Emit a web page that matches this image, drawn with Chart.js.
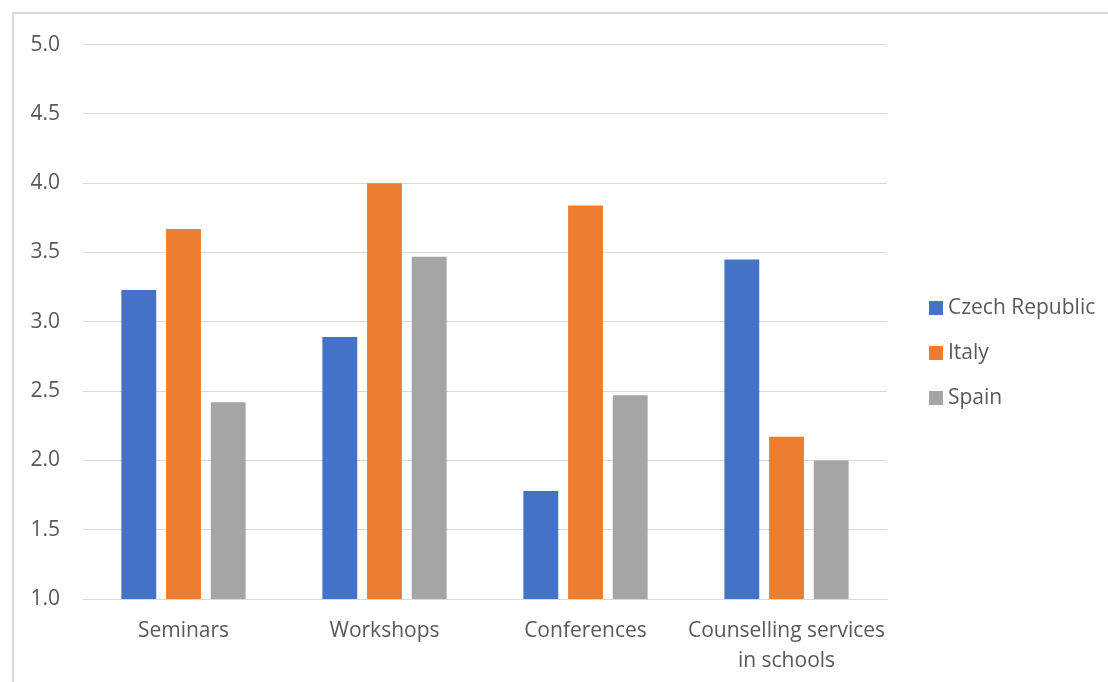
<!DOCTYPE html>
<html>
<head>
<meta charset="utf-8">
<script src="https://cdn.jsdelivr.net/npm/chart.js@4/dist/chart.umd.min.js"></script>
<style>
  body { margin: 0; background: #fff; overflow: hidden; }
  #frame {
    position: absolute; left: 12px; top: 12px; width: 1200px; height: 700px;
    border-left: 2px solid #d9d9d9; border-top: 2px solid #d9d9d9;
  }
  #box { position: absolute; left: 0; top: -5px; width: 1094px; height: 673px; }
  #legend {
    position: absolute; left: 915px; top: 272px;
    font-family: "Open Sans", sans-serif; font-size: 21px; color: #595959;
  }
  .item { height: 45px; line-height: 40px; white-space: nowrap; }
  .swatch { display: inline-block; width: 14px; height: 14px; margin-right: 5px; vertical-align: -1px; }
</style>
</head>
<body>
<div id="frame">
  <div id="box"><canvas id="myChart"></canvas></div>
  <div id="legend"></div>
</div>
<script>
var categories = ["Seminars", "Workshops", "Conferences", ["Counselling services", "in schools"]];
var seriesNames = ["Czech Republic", "Italy", "Spain"];
var czech = [3.23, 2.89, 1.78, 3.45];
var italy = [3.67, 4.0, 3.84, 2.17];
var spain = [2.42, 3.47, 2.47, 2.0];
var yTicks = [1.0, 1.5, 2.0, 2.5, 3.0, 3.5, 4.0, 4.5, 5.0];

var colors = ["#4472c4", "#ed7d31", "#a5a5a5"];
var values = [czech, italy, spain];

var datasets = [];
for (let i = 0; i < seriesNames.length; i++) {
    datasets.push({
        label: seriesNames[i],
        data: values[i],
        backgroundColor: colors[i],
        borderWidth: 0,
        categoryPercentage: 0.667,
        barPercentage: 0.78
    });
}

Chart.defaults.font.family = "'Open Sans', sans-serif";
Chart.defaults.font.size = 21;
Chart.defaults.color = "#595959";

var ctx = document.getElementById('myChart').getContext('2d');
var chart = new Chart(ctx, {
    type: 'bar',
    data: {
        labels: categories,
        datasets: datasets
    },
    options: {
        responsive: true,
        maintainAspectRatio: false,
        animation: false,
        layout: { padding: { left: 17, right: 221, top: 15, bottom: 0 } },
        plugins: {
            legend: { display: false },
            tooltip: { enabled: false }
        },
        scales: {
            x: {
                afterFit: (axis) => { axis.height = 83; },
                grid: { display: false },
                border: { color: "#d9d9d9", width: 1 },
                ticks: { padding: 9, maxRotation: 0, font: { lineHeight: 30 / 21 } }
            },
            y: {
                min: 1,
                max: 5,
                afterBuildTicks: (axis) => { axis.ticks = yTicks.map(v => ({ value: v })); },
                afterFit: (axis) => { axis.width = 52; },
                grid: { color: "#d9d9d9", lineWidth: 1, drawTicks: false },
                border: { display: false },
                ticks: { padding: 23, callback: (v) => Number(v).toFixed(1) }
            }
        }
    }
});

// legend next to the plot
var legend = document.getElementById("legend");
for (let i = 0; i < seriesNames.length; i++) {
    let row = document.createElement("div");
    row.className = "item";
    row.innerHTML = `<span class="swatch" style="background:${colors[i]}"></span>${seriesNames[i]}`;
    legend.appendChild(row);
}
</script>
</body>
</html>
